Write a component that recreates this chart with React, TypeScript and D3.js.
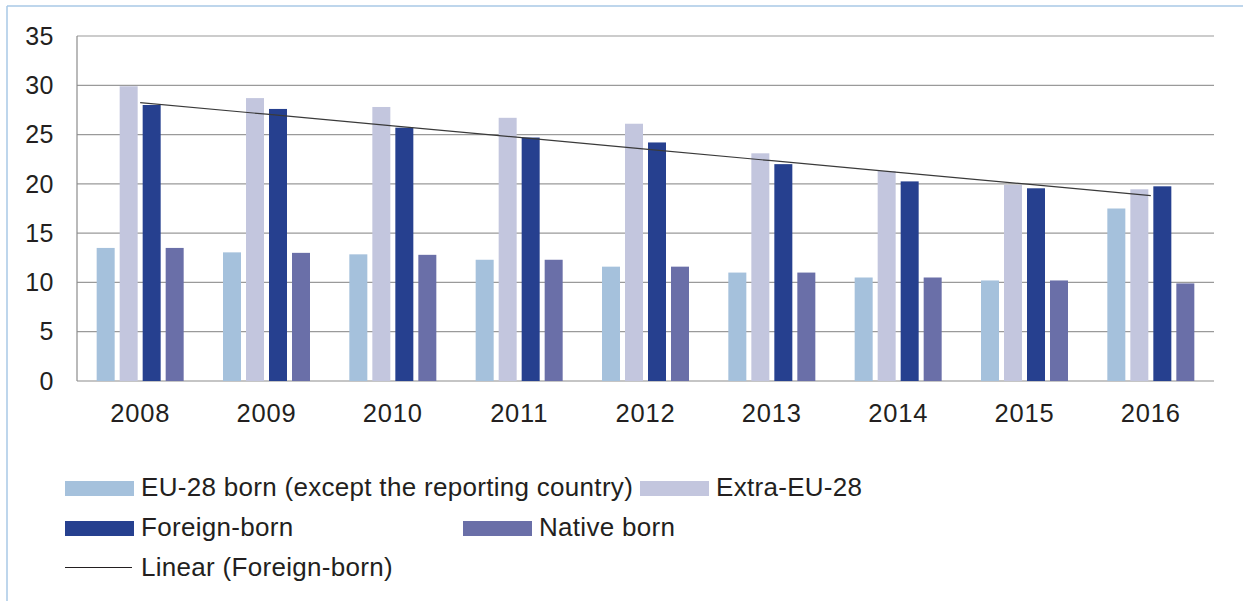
import React from "react";
import * as d3 from "d3";

const years = ["2008", "2009", "2010", "2011", "2012", "2013", "2014", "2015", "2016"];
const seriesNames = [
  "EU-28 born (except the reporting country)",
  "Extra-EU-28",
  "Foreign-born",
  "Native born",
];
const euBorn = [13.5, 13.05, 12.85, 12.3, 11.6, 11.0, 10.5, 10.2, 17.5];
const extraEu = [29.9, 28.7, 27.8, 26.7, 26.1, 23.1, 21.3, 19.9, 19.45];
const foreignBorn = [28.0, 27.6, 25.7, 24.7, 24.2, 22.0, 20.25, 19.55, 19.75];
const nativeBorn = [13.5, 13.0, 12.8, 12.3, 11.6, 11.0, 10.5, 10.2, 9.9];
const yTicks = [0, 5, 10, 15, 20, 25, 30, 35];
const trendLabel = "Linear (Foreign-born)";

const colors = ["#a5c1dc", "#c3c6de", "#26408f", "#6a6fa8"];

export default function App() {
  const W = 1243, H = 601;
  const left = 77, right = 1214, top = 36, bottom = 381;
  const values = [euBorn, extraEu, foreignBorn, nativeBorn];

  const x0 = d3.scaleBand<string>().domain(years).range([left, right]).padding(0);
  const bw = x0.bandwidth();
  const x1 = d3
    .scaleBand<string>()
    .domain(seriesNames)
    .range([bw / 2 - 43.5, bw / 2 + 43.5])
    .paddingInner(5 / 23)
    .paddingOuter(0);
  const y = d3.scaleLinear().domain([0, 35]).range([bottom, top]);

  // least-squares trend of Foreign-born
  const n = foreignBorn.length;
  const xm = d3.mean(d3.range(n)) as number;
  const ym = d3.mean(foreignBorn) as number;
  const slope =
    d3.sum(foreignBorn.map((v, i) => (i - xm) * (v - ym))) /
    d3.sum(d3.range(n).map((i) => (i - xm) * (i - xm)));
  const intercept = ym - slope * xm;
  const trendPts: [number, number][] = d3
    .range(n)
    .map((i) => [(x0(years[i]) as number) + bw / 2, y(intercept + slope * i)]);
  const line = d3.line();

  const font = "'Liberation Sans', Arial, sans-serif";

  const legendItems = [
    { label: seriesNames[0], color: colors[0], x: 65, y: 481 },
    { label: seriesNames[1], color: colors[1], x: 640, y: 481 },
    { label: seriesNames[2], color: colors[2], x: 65, y: 521 },
    { label: seriesNames[3], color: colors[3], x: 463, y: 521 },
  ];

  return (
    <svg
      width={W}
      height={H}
      style={{ position: "absolute", left: 0, top: 0, background: "#fff" }}
      fontFamily={font}
    >
      <rect x={0} y={0} width={W} height={H} fill="#fff" />
      {/* frame */}
      <line x1={7} y1={6} x2={W} y2={6} stroke="#a9c8e6" strokeWidth={1.5} />
      <line x1={7} y1={6} x2={7} y2={H} stroke="#a9c8e6" strokeWidth={1.5} />

      {/* gridlines */}
      {yTicks.map((t) => (
        <line
          key={t}
          x1={left}
          x2={right}
          y1={y(t)}
          y2={y(t)}
          stroke={t === 0 ? "#8c8c8c" : "#9a9a9a"}
          strokeWidth={1.2}
        />
      ))}
      <line x1={left} x2={left} y1={top} y2={bottom} stroke="#8c8c8c" strokeWidth={1.2} />

      {/* y labels */}
      {yTicks.map((t) => (
        <text
          key={t}
          x={54}
          y={y(t)}
          dy="0.35em"
          textAnchor="end"
          fontSize={25}
          letterSpacing={0.5}
          fill="#231f20"
        >
          {t}
        </text>
      ))}

      {/* bars */}
      {years.map((yr, i) => (
        <g key={yr} transform={`translate(${x0(yr)},0)`}>
          {seriesNames.map((s, k) => (
            <rect
              key={s}
              x={x1(s)}
              y={y(values[k][i])}
              width={x1.bandwidth()}
              height={y(0) - y(values[k][i])}
              fill={colors[k]}
            />
          ))}
        </g>
      ))}

      {/* trend */}
      <path d={line(trendPts) || ""} fill="none" stroke="#3a3a3a" strokeWidth={1.2} />

      {/* x labels */}
      {years.map((yr) => (
        <text
          key={yr}
          x={(x0(yr) as number) + bw / 2}
          y={bottom + 41}
          textAnchor="middle"
          fontSize={25.5}
          letterSpacing={0.8}
          fill="#231f20"
        >
          {yr}
        </text>
      ))}

      {/* legend */}
      {legendItems.map((it) => (
        <g key={it.label}>
          <rect x={it.x} y={it.y} width={69} height={15} fill={it.color} />
          <text
            x={it.x + 76}
            y={it.y + 15}
            fontSize={26}
            letterSpacing={0.3}
            fill="#231f20"
          >
            {it.label}
          </text>
        </g>
      ))}
      <line x1={65} x2={132} y1={567.5} y2={567.5} stroke="#231f20" strokeWidth={1.2} />
      <text x={141} y={576} fontSize={26} letterSpacing={0.3} fill="#231f20">
        {trendLabel}
      </text>
    </svg>
  );
}
